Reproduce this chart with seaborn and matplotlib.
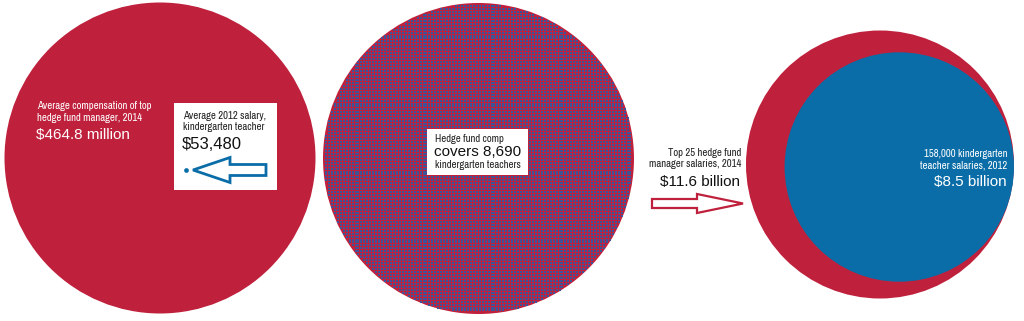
import numpy as np
import pandas as pd
import matplotlib
matplotlib.use("Agg")
import matplotlib.pyplot as plt
from matplotlib.patches import Circle, FancyArrow, Rectangle
from matplotlib import font_manager
import seaborn as sns

# ---- data ----
hedge_avg_comp = 464.8e6          # avg compensation of top hedge fund manager, 2014
teacher_avg_salary = 53480        # avg 2012 kindergarten teacher salary
teachers_covered = 8690           # teachers covered by one manager's comp
top25_total = 11.6e9              # top 25 hedge fund manager salaries, 2014
teacher_total = 8.5e9             # 158,000 kindergarten teacher salaries, 2012

labels_left = ["Average compensation of top\nhedge fund manager, 2014", "$464.8 million"]
labels_box = ["Average 2012 salary,\nkindergarten teacher", "$53,480"]
labels_mid = ["Hedge fund comp", "covers 8,690", "kindergarten teachers"]
labels_arrow = ["Top 25 hedge fund\nmanager salaries, 2014", "$11.6 billion"]
labels_right = ["158,000 kindergarten\nteacher salaries, 2012", "$8.5 billion"]

RED = "#BF203C"
BLUE = "#0A6DA7"

sns.set_theme(style="white")
avail = {f.name for f in font_manager.fontManager.ttflist}


def pick(*names):
    for n in names:
        if n in avail:
            return n
    return "DejaVu Sans"


NARROW = pick("Archivo Narrow", "Barlow Semi Condensed", "Liberation Sans Narrow", "Liberation Sans")
REG = pick("Liberation Sans", "Arimo")
plt.rcParams["font.family"] = [REG, "DejaVu Sans"]
SMALL = 7.7
BIG = 11

fig = plt.figure(figsize=(10.24, 3.21), dpi=100)
ax = fig.add_axes([0, 0, 1, 1])
ax.set_xlim(0, 1024)
ax.set_ylim(321, 0)
ax.axis("off")

# ---- left panel ----
L_c, L_r = (160, 158), 155.5
ax.add_patch(Circle(L_c, L_r, color=RED, lw=0, zorder=1))
ax.text(37, 112, labels_left[0], color="white", fontsize=SMALL, family=NARROW,
        va="center", ha="left", linespacing=1.2, zorder=3)
ax.text(36, 135, labels_left[1], color="white", fontsize=BIG, family=REG,
        va="center", ha="left", zorder=3)
ax.add_patch(Rectangle((174, 103), 103, 87, color="white", lw=0, zorder=2))
ax.text(183, 121.5, labels_box[0], color="#222222", fontsize=SMALL, family=NARROW,
        va="center", ha="left", linespacing=1.2, zorder=3)
ax.text(182, 144.5, labels_box[1], color="#111111", fontsize=BIG + 1, family=REG,
        va="center", ha="left", zorder=3)
dot_r = L_r * np.sqrt(teacher_avg_salary / hedge_avg_comp)
teacher_df = pd.DataFrame({"x": [186.0], "y": [170.0]})
sns.scatterplot(data=teacher_df, x="x", y="y", ax=ax, color=BLUE,
                s=(2 * dot_r * 0.72 + 1.0) ** 2, marker="o", linewidth=0, zorder=4, legend=False)
ax.add_patch(FancyArrow(266, 170, -73, 0, width=11, head_width=25, head_length=37,
                        length_includes_head=True, fc="white", ec=BLUE, lw=2, zorder=4))

# ---- middle panel: grid of teacher dots filling the circle ----
M_c, M_r = (478.5, 158.5), 155.5
ax.add_patch(Circle(M_c, M_r, color=RED, lw=0, zorder=1))
step = np.sqrt(np.pi * M_r ** 2 / teachers_covered)
g = np.arange(-M_r, M_r + step, step)
gx, gy = np.meshgrid(g, g)
gx, gy = gx.ravel(), gy.ravel()
inside = np.hypot(gx, gy) <= M_r - step * 0.35
grid_df = pd.DataFrame({"x": gx[inside] + M_c[0], "y": gy[inside] + M_c[1]})
sns.scatterplot(data=grid_df, x="x", y="y", ax=ax, color="#3F5498", marker="s",
                s=(step * 0.8 * 0.72) ** 2, linewidth=0, zorder=2, legend=False,
                rasterized=True)
ax.set_xlim(0, 1024)
ax.set_ylim(321, 0)
ax.add_patch(Rectangle((427, 129), 101, 46, color="white", lw=0, zorder=3))
ax.text(435, 139.5, labels_mid[0], color="#222222", fontsize=SMALL, family=NARROW,
        va="center", ha="left", zorder=4)
ax.text(434.5, 152, labels_mid[1], color="#111111", fontsize=BIG, family=REG,
        va="center", ha="left", zorder=4)
ax.text(435, 164.5, labels_mid[2], color="#222222", fontsize=SMALL, family=NARROW,
        va="center", ha="left", zorder=4)

# ---- right panel ----
ax.text(741, 158.5, labels_arrow[0], color="#222222", fontsize=SMALL, family=NARROW,
        va="center", ha="right", linespacing=1.2, zorder=3)
ax.text(740, 182, labels_arrow[1], color="#111111", fontsize=BIG, family=REG,
        va="center", ha="right", zorder=3)
ax.add_patch(FancyArrow(652, 203.5, 91, 0, width=9, head_width=19, head_length=46,
                        length_includes_head=True, fc="white", ec=RED, lw=1.6, zorder=3))

R_c, R_r = (880, 164.5), 134
ax.add_patch(Circle(R_c, R_r, color=RED, lw=0, zorder=1))
b_r = R_r * np.sqrt(teacher_total / top25_total)
ax.add_patch(Circle((R_c[0] + R_r - b_r, 167), b_r, color=BLUE, lw=0, zorder=2))
ax.text(1007, 160, labels_right[0], color="white", fontsize=SMALL, family=NARROW,
        va="center", ha="right", linespacing=1.2, zorder=3)
ax.text(1007, 182, labels_right[1], color="white", fontsize=BIG, family=REG,
        va="center", ha="right", zorder=3)

fig.savefig("out.png", dpi=100)
